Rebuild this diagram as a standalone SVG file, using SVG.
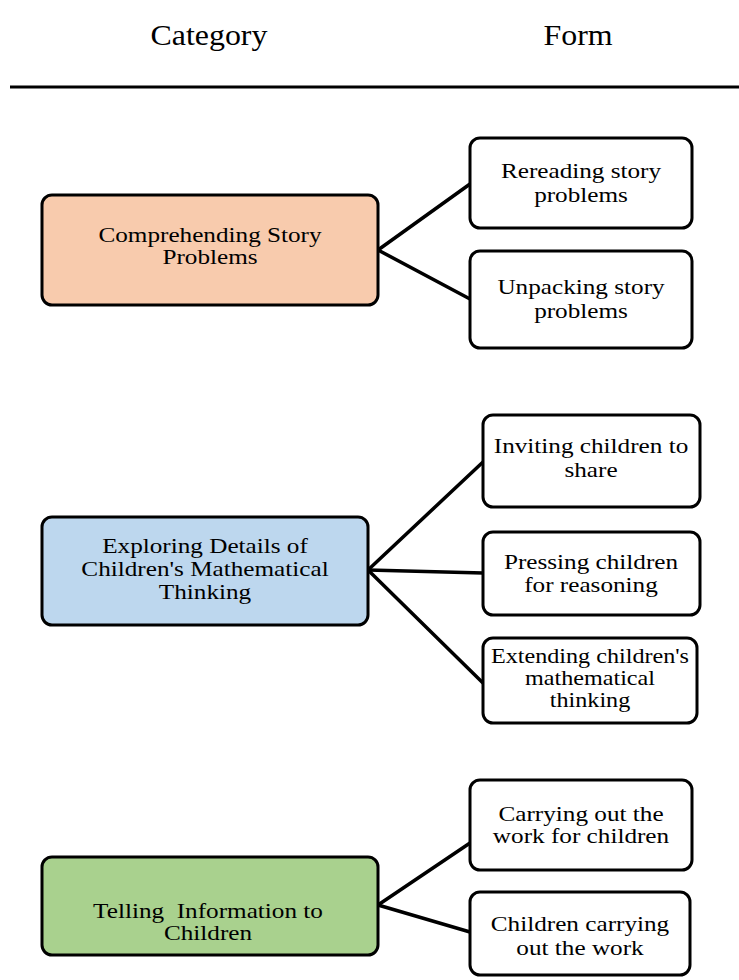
<svg xmlns="http://www.w3.org/2000/svg" width="739" height="980" viewBox="0 0 739 980">
<style>
.box{stroke:#000;stroke-width:3;}
.t{font-family:"Liberation Serif","Times New Roman",serif;font-size:21px;fill:#000;text-anchor:middle;}
.h{font-family:"Liberation Serif","Times New Roman",serif;font-size:29px;fill:#000;text-anchor:middle;}
.conn line{stroke:#000;stroke-width:3.5;stroke-linecap:round;}
</style>
<rect width="739" height="980" fill="#fff"/>
<g id="header">
<text class="h" transform="translate(209,45) scale(1.1,1)">Category</text>
<text class="h" transform="translate(578,45) scale(1.1,1)">Form</text>
<line x1="10" y1="87" x2="739" y2="87" stroke="#000" stroke-width="3"/>
</g>
<g id="connectors" class="conn">
<line x1="378" y1="250" x2="470" y2="184"/>
<line x1="378" y1="250" x2="470" y2="299"/>
<line x1="368" y1="570" x2="483" y2="462"/>
<line x1="368" y1="570" x2="483" y2="573"/>
<line x1="368" y1="570" x2="483" y2="683"/>
<line x1="378" y1="905" x2="470" y2="843"/>
<line x1="378" y1="905" x2="470" y2="932"/>
</g>
<g id="comprehending">
<rect class="box" x="42" y="195" width="336" height="110" rx="10" fill="#F8CBAD"/>
<text class="t" transform="translate(210,242) scale(1.2,1)"><tspan x="0" y="0">Comprehending Story</tspan><tspan x="0" y="22">Problems</tspan></text>
</g>
<g id="rereading">
<rect class="box" x="470" y="138" width="222" height="90" rx="10" fill="#fff"/>
<text class="t" transform="translate(581,178) scale(1.2,1)"><tspan x="0" y="0">Rereading story</tspan><tspan x="0" y="24">problems</tspan></text>
</g>
<g id="unpacking">
<rect class="box" x="470" y="251" width="222" height="97" rx="10" fill="#fff"/>
<text class="t" transform="translate(581,294) scale(1.2,1)"><tspan x="0" y="0">Unpacking story</tspan><tspan x="0" y="24">problems</tspan></text>
</g>
<g id="exploring">
<rect class="box" x="42" y="517" width="326" height="108" rx="10" fill="#BDD7EE"/>
<text class="t" transform="translate(205,553) scale(1.2,1)"><tspan x="0" y="0">Exploring Details of</tspan><tspan x="0" y="23">Children's Mathematical</tspan><tspan x="0" y="46">Thinking</tspan></text>
</g>
<g id="inviting">
<rect class="box" x="483" y="415" width="217" height="92" rx="10" fill="#fff"/>
<text class="t" transform="translate(591,453) scale(1.2,1)"><tspan x="0" y="0">Inviting children to</tspan><tspan x="0" y="24">share</tspan></text>
</g>
<g id="pressing">
<rect class="box" x="483" y="532" width="217" height="83" rx="10" fill="#fff"/>
<text class="t" transform="translate(591,569) scale(1.2,1)"><tspan x="0" y="0">Pressing children</tspan><tspan x="0" y="23">for reasoning</tspan></text>
</g>
<g id="extending">
<rect class="box" x="483" y="638" width="214" height="85" rx="10" fill="#fff"/>
<text class="t" transform="translate(590,663) scale(1.15,1)"><tspan x="0" y="0">Extending children's</tspan><tspan x="0" y="22">mathematical</tspan><tspan x="0" y="44">thinking</tspan></text>
</g>
<g id="telling">
<rect class="box" x="42" y="857" width="336" height="98" rx="10" fill="#A9D18E"/>
<text class="t" transform="translate(208,918) scale(1.2,1)"><tspan x="0" y="0" style="white-space:pre">Telling  Information to</tspan><tspan x="0" y="22">Children</tspan></text>
</g>
<g id="carrying">
<rect class="box" x="470" y="780" width="222" height="90" rx="10" fill="#fff"/>
<text class="t" transform="translate(581,821) scale(1.2,1)"><tspan x="0" y="0">Carrying out the</tspan><tspan x="0" y="22">work for children</tspan></text>
</g>
<g id="childrencarrying">
<rect class="box" x="470" y="892" width="220" height="83" rx="10" fill="#fff"/>
<text class="t" transform="translate(580,931) scale(1.2,1)"><tspan x="0" y="0">Children carrying</tspan><tspan x="0" y="24">out the work</tspan></text>
</g>
</svg>
